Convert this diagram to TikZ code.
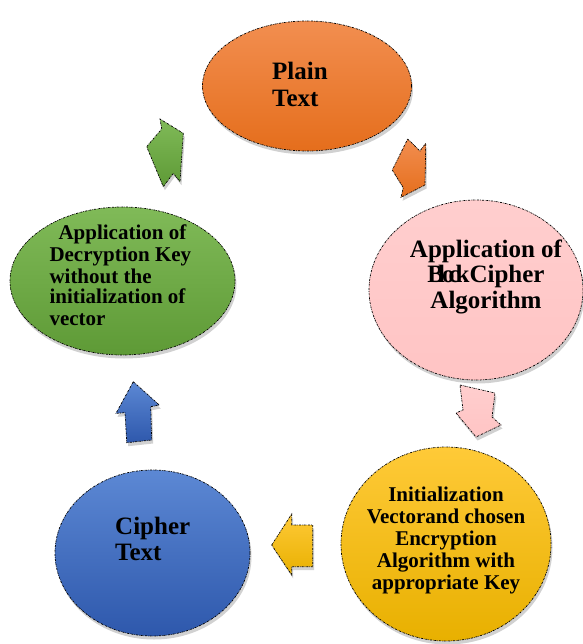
\documentclass[tikz,border=0pt]{standalone}
\usepackage{fontspec}
\setmainfont{Liberation Serif}
\usetikzlibrary{shapes.geometric,shadows}
\definecolor{orT}{RGB}{242,142,80}
\definecolor{orB}{RGB}{229,110,28}
\definecolor{pkT}{RGB}{255,206,206}
\definecolor{pkB}{RGB}{255,196,196}
\definecolor{ylT}{RGB}{255,202,56}
\definecolor{ylB}{RGB}{232,176,0}
\definecolor{blT}{RGB}{92,136,212}
\definecolor{blB}{RGB}{46,88,172}
\definecolor{gnT}{RGB}{128,186,88}
\definecolor{gnB}{RGB}{94,154,54}
\begin{document}
\begin{tikzpicture}[x=1pt,y=-1pt,
  outl/.style={draw=black, line width=0.7pt, dash pattern=on 2pt off 1pt on 0.6pt off 1pt},
  shad/.style={drop shadow={shadow xshift=1.5pt, shadow yshift=-3.5pt, opacity=0.3, fill=black!60}},
  blob/.style={ellipse, inner sep=0pt, outl, shad},
  bigtxt/.style={font=\fontsize{25}{25}\selectfont\bfseries, inner sep=0pt},
  smtxt/.style={font=\fontsize{21}{21}\selectfont\bfseries, inner sep=0pt},
  barrow/.style={outl, shad},
  orangefill/.style={top color=orT, bottom color=orB},
  pinkfill/.style={top color=pkT, bottom color=pkB},
  yellowfill/.style={top color=ylT, bottom color=ylB},
  bluefill/.style={top color=blT, bottom color=blB},
  greenfill/.style={top color=gnT, bottom color=gnB}
]
\useasboundingbox (0,0) rectangle (582,644);

% ellipses
\node[blob, orangefill, minimum width=209pt, minimum height=130pt] (plain) at (307,86) {};
\node[blob, pinkfill, minimum width=214pt, minimum height=180pt] (block) at (476,290) {};
\node[blob, yellowfill, minimum width=210pt, minimum height=194pt] (init) at (446,544) {};
\node[blob, bluefill, minimum width=195pt, minimum height=166pt] (cipher) at (152.5,553) {};
\node[blob, greenfill, minimum width=225pt, minimum height=148pt] (decrypt) at (122.5,281) {};

% block arrows
\path[barrow, orangefill] (407.7,139) -- (420,151) -- (425.7,143.3) -- (425,185) -- (401,197.3) -- (403.3,187.7) -- (392.3,170) -- cycle;
\path[barrow, pinkfill] (460,385) -- (495,393) -- (492,417) -- (501,425) -- (476,437) -- (456,413) -- (463,410) -- cycle;
\path[barrow, yellowfill] (271.7,545) -- (291.7,514) -- (291.7,525) -- (312.7,525) -- (312.7,566.7) -- (291.7,566.7) -- (291.7,575) -- cycle;
\path[barrow, bluefill] (133.3,381.7) -- (159.3,405) -- (150.7,406.7) -- (151.7,440) -- (126.7,442.7) -- (125,412.7) -- (116,413.3) -- cycle;
\path[barrow, greenfill] (183.3,133.3) -- (180,181.7) -- (173.3,173.3) -- (163.3,186.7) -- (146.7,146.7) -- (161.7,129) -- (160,119) -- cycle;

% texts
\node[bigtxt, anchor=base west] (p1) at (272,80) {Plain};
\node[bigtxt, anchor=base west] (p2) at (272,107) {Text};

\node[bigtxt, anchor=base] (b1) at (486,257) {Application of};
\node[bigtxt, anchor=base] (b2) at (486,282) {B\kern-6pt l\kern-3pt o\kern-6pt c\kern-4pt kCipher};
\node[bigtxt, anchor=base] (b3) at (486,308) {Algorithm};

\node[smtxt, anchor=base] (i1) at (446,501.5) {Initialization};
\node[smtxt, anchor=base] (i2) at (446,523) {Vectorand chosen};
\node[smtxt, anchor=base] (i3) at (446,545) {Encryption};
\node[smtxt, anchor=base] (i4) at (446,567) {Algorithm with};
\node[smtxt, anchor=base] (i5) at (446,589) {appropriate Key};

\node[bigtxt, anchor=base west] (c1) at (115,534) {Cipher};
\node[bigtxt, anchor=base west] (c2) at (115,560) {Text};

\node[smtxt, anchor=base west] (d1) at (58.3,239) {Application of};
\node[smtxt, anchor=base west] (d2) at (49.3,261.5) {Decryption Key};
\node[smtxt, anchor=base west] (d3) at (49.3,283) {without the};
\node[smtxt, anchor=base west] (d4) at (49.3,303.5) {initialization of};
\node[smtxt, anchor=base west] (d5) at (49.3,325) {vector};
\end{tikzpicture}
\end{document}
